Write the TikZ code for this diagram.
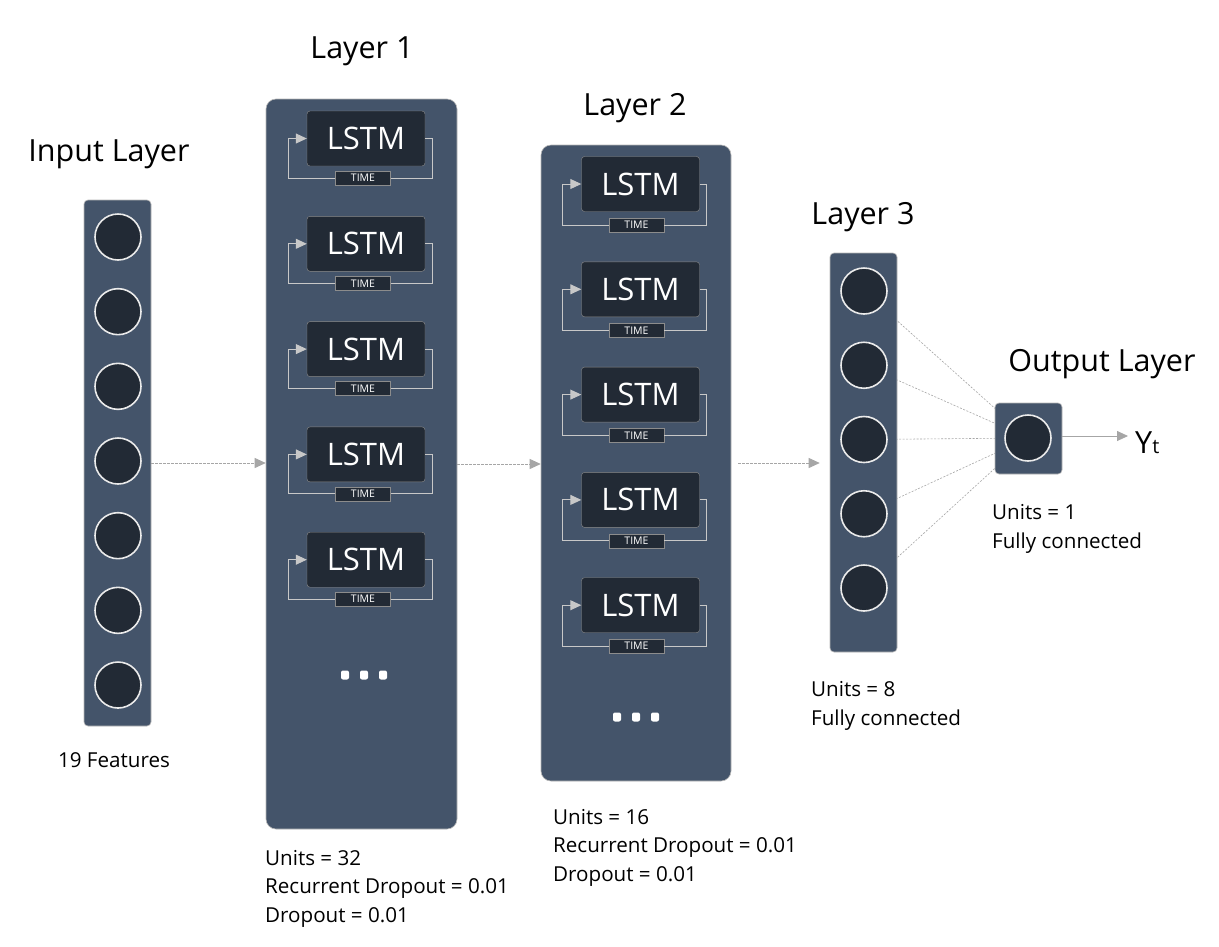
\documentclass[tikz,border=0pt]{standalone}
\usepackage{fontspec}
\setmainfont{Open Sans}
\usetikzlibrary{arrows.meta, positioning, calc}
\definecolor{panelBlue}{HTML}{44546A}
\definecolor{cellDark}{HTML}{222A35}
\definecolor{edgeGray}{HTML}{A6A6A6}
\definecolor{loopGray}{HTML}{C8C8C8}
\pgfdeclarelayer{back}
\pgfsetlayers{back,main}

\begin{document}
\begin{tikzpicture}[x=1pt, y=-1pt,
    panel/.style={draw=edgeGray!80, fill=panelBlue, line width=0.6pt, inner sep=0pt},
    unit/.style={circle, draw=white!92!black, line width=1.6pt, fill=cellDark, minimum size=46pt, inner sep=0pt},
    lstmbox/.style={draw=gray!90, fill=cellDark, rounded corners=3pt, minimum width=118pt, minimum height=55pt,
        inner sep=0pt, text=white, font=\fontsize{31}{31}\selectfont},
    timebox/.style={draw=gray!90, fill=cellDark, minimum width=55pt, minimum height=14pt,
        inner sep=0pt, text=white, font=\fontsize{10.5}{10.5}\selectfont},
    loop/.style={draw=loopGray, line width=1pt},
    flow/.style={draw=edgeGray, line width=0.8pt, dash pattern=on 2.5pt off 1.5pt, -{Triangle[length=11pt,width=10pt]}},
    link/.style={draw=edgeGray, line width=0.6pt, dash pattern=on 2pt off 1.5pt},
    title/.style={font=\fontsize{30.5}{30.5}\selectfont, anchor=base},
    note/.style={font=\fontsize{20.6}{28.5}\selectfont, align=left, anchor=base west, inner sep=0pt},
    ellipsisdot/.style={fill=white, rounded corners=2pt, minimum width=8pt, minimum height=9pt, inner sep=0pt}]
    \useasboundingbox (0,0) rectangle (1219,946);
    \begin{pgfonlayer}{back}
        \fill[white] (0,0) rectangle (1219,946);
    \end{pgfonlayer}

    % input layer
    \node[panel, rounded corners=4pt, minimum width=67pt, minimum height=526pt] (inPanel) at (117.5,463) {};
    \foreach \i in {0,...,6}
        \node[unit] (x\i) at (118,{237+74.67*\i}) {};
    \node[title] (inTitle) at (109,161) {Input Layer};
    \node[note, anchor=base] (inNote) at (114,767) {19 Features};

    % layer 1
    \node[panel, rounded corners=10pt, minimum width=191pt, minimum height=730pt] (panelA) at (361.5,464) {};
    \foreach \i in {0,...,4} {
        \node[lstmbox] (a\i) at (366,{138.5+105.3*\i}) {LSTM};
        \node[timebox] (ta\i) at (363,{178+105.3*\i}) {TIME};
        \draw[loop] (a\i.east) -- ++(7,0) |- (ta\i.east);
        \draw[loop, -{Triangle[length=11pt,width=10pt]}] (ta\i.west) -| ($(a\i.west)+(-18,0)$) -- (a\i.west);
    }
    \foreach \x in {345,364,383}
        \node[ellipsisdot] (dotA\x) at (\x,675) {};
    \node[title] (aTitle) at (362,58) {Layer 1};
    \node[note] (aNote) at (265,922) {Units = 32\\Recurrent Dropout = 0.01\\Dropout = 0.01};

    % layer 2
    \node[panel, rounded corners=10pt, minimum width=190pt, minimum height=636pt] (panelB) at (636,463) {};
    \foreach \i in {0,...,4} {
        \node[lstmbox] (b\i) at (640.5,{184+105.3*\i}) {LSTM};
        \node[timebox] (tb\i) at (636.5,{225+105.3*\i}) {TIME};
        \draw[loop] (b\i.east) -- ++(7,0) |- (tb\i.east);
        \draw[loop, -{Triangle[length=11pt,width=10pt]}] (tb\i.west) -| ($(b\i.west)+(-19,0)$) -- (b\i.west);
    }
    \foreach \x in {617,636,655}
        \node[ellipsisdot] (dotB\x) at (\x,717) {};
    \node[title] (bTitle) at (635,115.5) {Layer 2};
    \node[note] (bNote) at (553,881) {Units = 16\\Recurrent Dropout = 0.01\\Dropout = 0.01};

    % layer 3
    \node[panel, rounded corners=4pt, minimum width=67pt, minimum height=399pt] (panelC) at (863.5,452.5) {};
    \foreach \i in {1,...,5}
        \node[unit] (h\i) at (864,{291+74.25*(\i-1)}) {};
    \node[title] (cTitle) at (863,224.5) {Layer 3};
    \node[note] (cNote) at (811,725) {Units = 8\\Fully connected};

    % output layer
    \node[panel, rounded corners=4pt, minimum width=67pt, minimum height=71pt] (outPanel) at (1028.5,438.5) {};
    \node[unit] (out) at (1028,438) {};
    \node[title] (outTitle) at (1102,371) {Output Layer};
    \node[note] (outNote) at (992,548) {Units = 1\\Fully connected};
    \node[anchor=base west, inner sep=0pt, font=\fontsize{30.5}{30.5}\selectfont] (yt) at (1135,453)
        {Y{\fontsize{20}{20}\selectfont t}};

    % connections
    \draw[flow] (inPanel.east) -- (inPanel.east -| panelA.west);
    \draw[flow] (panelA.east) -- (panelA.east -| panelB.west);
    \draw[flow] ([xshift=7pt]panelB.east) -- ([xshift=-10pt]panelB.east -| panelC.west);
    \begin{pgfonlayer}{back}
        \foreach \i in {1,...,5}
            \draw[link] (h\i.center) -- (out.center);
    \end{pgfonlayer}
    \draw[draw=edgeGray, line width=0.8pt, -{Triangle[length=11pt,width=10pt]}, shorten >=7pt]
        ([yshift=2.5pt]outPanel.east) -- ([yshift=2.5pt]outPanel.east -| yt.west);
\end{tikzpicture}
\end{document}
